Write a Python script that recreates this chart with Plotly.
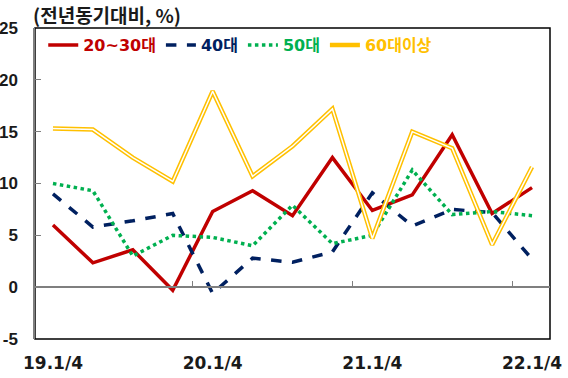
import plotly.graph_objects as go

quarters = ["19.1/4", "19.2/4", "19.3/4", "19.4/4", "20.1/4", "20.2/4", "20.3/4", "20.4/4",
            "21.1/4", "21.2/4", "21.3/4", "21.4/4", "22.1/4"]
age_20_30 = [6.0, 2.35, 3.6, -0.3, 7.3, 9.3, 6.9, 12.5, 7.4, 8.9, 14.7, 7.1, 9.6]
age_40 = [9.0, 5.8, 6.4, 7.1, -0.6, 2.8, 2.4, 3.4, 9.1, 5.9, 7.5, 7.2, 2.7]
age_50 = [10.0, 9.3, 3.0, 5.0, 4.8, 4.0, 7.9, 4.2, 5.0, 11.3, 7.0, 7.3, 6.9]
age_60 = [15.3, 15.2, 12.5, 10.2, 18.9, 10.7, 13.6, 17.2, 4.7, 15.0, 13.4, 4.1, 11.6]
label_quarters = ["19.1/4", "20.1/4", "21.1/4", "22.1/4"]
y_ticks = [-5, 0, 5, 10, 15, 20, 25]
y_tick_text = ["-5", "0", "5", "10", "15", "20", "25"]

idx = list(range(len(quarters)))
label_idx = [quarters.index(q) for q in label_quarters]
RED, NAVY, GREEN, GOLD = "#C00000", "#002060", "#00B050", "#FFC000"

def nm(t, c):
    return f"<span style='color:{c}'>{t}</span>"

fig = go.Figure()
fig.add_trace(go.Scatter(x=idx, y=age_20_30, mode="lines", name=nm("20~30대", RED),
                         line=dict(color=RED, width=3.5)))
fig.add_trace(go.Scatter(x=idx, y=age_40, mode="lines", name=nm("40대", NAVY),
                         line=dict(color=NAVY, width=3.5, dash="dash")))
fig.add_trace(go.Scatter(x=idx, y=age_50, mode="lines", name=nm("50대", GREEN),
                         line=dict(color=GREEN, width=3.5, dash="dot")))
fig.add_trace(go.Scatter(x=idx, y=age_60, mode="lines", name=nm("60대이상", GOLD),
                         line=dict(color=GOLD, width=4.5)))
fig.add_trace(go.Scatter(x=idx, y=age_60, mode="lines", showlegend=False, hoverinfo="skip",
                         line=dict(color="white", width=1.5)))
# invisible trace to carry bottom label axis
fig.add_trace(go.Scatter(x=idx, y=age_20_30, mode="lines", xaxis="x2", showlegend=False,
                         hoverinfo="skip", opacity=0, line=dict(width=0)))

font_main = "DejaVu Sans, Noto Sans CJK KR, sans-serif"
font_y = "Liberation Sans, Arial, sans-serif"
fig.update_layout(
    width=568, height=378,
    margin=dict(l=35, r=18, t=28, b=39, autoexpand=False),
    paper_bgcolor="white", plot_bgcolor="white",
    font=dict(family=font_main, size=15, color="#1a1a1a"),
    xaxis=dict(range=[-0.45, 12.45], anchor="free", position=1/6, automargin=False,
               showline=True, linecolor="#7f7f7f", linewidth=1.5,
               ticks="inside", tickvals=[3.5, 7.5, 11.5], ticklen=5, tickcolor="#7f7f7f",
               showticklabels=False, showgrid=False, zeroline=False),
    xaxis2=dict(range=[-0.45, 12.45], overlaying="x", anchor="y", side="bottom",
                automargin=False,
                tickvals=label_idx, ticktext=label_quarters, ticks="", showline=False,
                showgrid=False, zeroline=False, ticklabelstandoff=12,
                tickfont=dict(family=font_main, size=17, color="#1a1a1a", weight="bold")),
    yaxis=dict(range=[-5, 25], tickvals=y_ticks, ticktext=y_tick_text, automargin=False,
               showgrid=False, zeroline=False,
               showline=True, linecolor="#7f7f7f", linewidth=1.5,
               ticks="inside", ticklen=6, tickcolor="#7f7f7f", ticklabelstandoff=12,
               tickfont=dict(family=font_y, size=17, color="#1a1a1a", weight="bold")),
    legend=dict(orientation="h", x=0.016, y=1.0, xanchor="left", yanchor="top",
                bgcolor="rgba(0,0,0,0)", font=dict(family=font_main, size=16, weight="bold"),
                itemwidth=30, tracegroupgap=0),
    shapes=[dict(type="rect", xref="paper", yref="paper", x0=0, x1=1, y0=0, y1=1,
                 line=dict(color="black", width=1.5), layer="below")],
    annotations=[dict(text="(전년동기대비, %)", xref="paper", yref="paper", x=-0.005, y=1.0,
                      xanchor="left", yanchor="bottom", showarrow=False, yshift=-1,
                      borderpad=0,
                      font=dict(family="Noto Sans CJK KR, sans-serif", size=19, weight="bold",
                                color="#1a1a1a"))],
)
fig.write_html("out.html")
